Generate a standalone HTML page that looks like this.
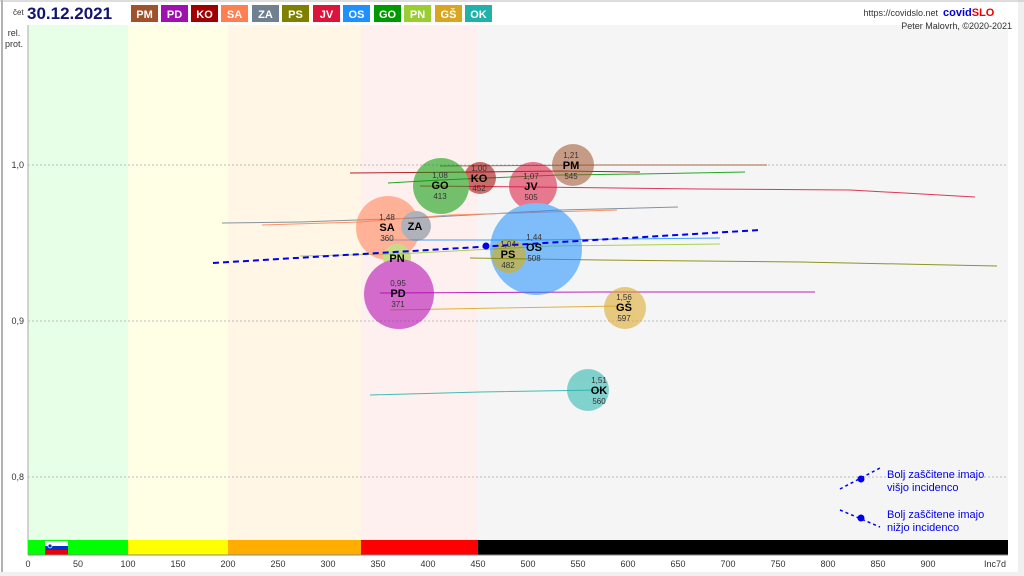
<!DOCTYPE html>
<html><head><meta charset="utf-8"><style>
html,body{margin:0;padding:0;background:#fff}
svg{display:block;font-family:"Liberation Sans",sans-serif}
</style></head><body>
<svg width="1024" height="576" viewBox="0 0 1024 576" xmlns="http://www.w3.org/2000/svg">
<rect x="0" y="0" width="1024" height="576" fill="#fff"/>
<rect x="0" y="572" width="1024" height="4" fill="#f0f0f0"/>
<rect x="1018" y="0" width="6" height="576" fill="#f0f0f0"/>
<line x1="2" y1="0" x2="2" y2="572" stroke="#999" stroke-width="1.5"/>
<line x1="0" y1="1" x2="1024" y2="1" stroke="#bbb"/>
<!-- zones -->
<rect x="28" y="25" width="100" height="515" fill="#e6ffe6"/>
<rect x="128" y="25" width="100" height="515" fill="#ffffe6"/>
<rect x="228" y="25" width="133" height="515" fill="#fff6e6"/>
<rect x="361" y="25" width="117" height="515" fill="#fff0f0"/>
<rect x="478" y="25" width="530" height="515" fill="#f5f5f5"/>
<line x1="28" y1="25" x2="28" y2="555" stroke="#aaa"/>
<!-- grid -->
<g stroke="#bbb" stroke-dasharray="2,2" stroke-width="1">
<line x1="28" y1="165" x2="1008" y2="165"/>
<line x1="28" y1="321" x2="1008" y2="321"/>
<line x1="28" y1="477" x2="1008" y2="477"/>
</g>
<g font-size="9" fill="#333" text-anchor="end">
<text x="24" y="168">1,0</text><text x="24" y="324">0,9</text><text x="24" y="480">0,8</text>
</g>
<text x="14" y="36" font-size="9" fill="#333" text-anchor="middle">rel.</text>
<text x="14" y="47" font-size="9" fill="#333" text-anchor="middle">prot.</text>
<!-- bottom bar -->
<rect x="28" y="540" width="100" height="15" fill="#00ff00"/>
<rect x="128" y="540" width="100" height="15" fill="#ffff00"/>
<rect x="228" y="540" width="133" height="15" fill="#ffae00"/>
<rect x="361" y="540" width="117" height="15" fill="#ff0000"/>
<rect x="478" y="540" width="530" height="15" fill="#000"/>
<rect x="45" y="541" width="23" height="5" fill="#fff"/>
<rect x="45" y="546" width="23" height="4" fill="#0033cc"/>
<rect x="45" y="550" width="23" height="5" fill="#e00"/>
<circle cx="50" cy="546" r="2" fill="#0033cc" stroke="#fff" stroke-width="0.7"/>
<line x1="28" y1="555" x2="1008" y2="555" stroke="#888"/>
<g font-size="9" fill="#333" text-anchor="middle">
<text x="28" y="567">0</text><text x="78" y="567">50</text><text x="128" y="567">100</text><text x="178" y="567">150</text><text x="228" y="567">200</text><text x="278" y="567">250</text><text x="328" y="567">300</text><text x="378" y="567">350</text><text x="428" y="567">400</text><text x="478" y="567">450</text><text x="528" y="567">500</text><text x="578" y="567">550</text><text x="628" y="567">600</text><text x="678" y="567">650</text><text x="728" y="567">700</text><text x="778" y="567">750</text><text x="828" y="567">800</text><text x="878" y="567">850</text><text x="928" y="567">900</text><text x="995" y="567">Inc7d</text>
</g>
<!-- trails -->
<g fill="none" stroke-width="1" opacity="0.85">
<polyline points="440,166 600,165 767,165" stroke="#a0522d"/>
<polyline points="350,173 480,172 560,171 640,172" stroke="#a00000"/>
<polyline points="388,183 440,180 560,175 640,174 745,172" stroke="#009900"/>
<polyline points="420,186 533,187 700,189 850,190 975,197" stroke="#dc143c"/>
<polyline points="222,223 300,222 415,218 560,210 678,207" stroke="#708090"/>
<polyline points="262,225 360,222 450,215 617,210" stroke="#ff7f50"/>
<polyline points="380,240 536,240 720,238" stroke="#1e90ff"/>
<polyline points="300,256 397,254 550,246 720,244" stroke="#9acd32"/>
<polyline points="470,258 600,260 800,262 997,266" stroke="#808000"/>
<polyline points="380,293 600,292 815,292" stroke="#b000b0"/>
<polyline points="390,310 500,308 620,306" stroke="#daa520"/>
<polyline points="370,395 480,392 600,390" stroke="#20b2aa"/>
</g>
<!-- bubbles -->
<g opacity="0.55">
<circle cx="573" cy="165" r="21" fill="#a0522d"/>
<circle cx="480" cy="178" r="16" fill="#a00000"/>
<circle cx="441" cy="186" r="28" fill="#009900"/>
<circle cx="533" cy="186" r="24" fill="#dc143c"/>
<circle cx="388" cy="228" r="32" fill="#ff7f50"/>
<circle cx="416" cy="226" r="15" fill="#708090"/>
<circle cx="536" cy="249" r="46" fill="#1e90ff"/>
<circle cx="509" cy="256" r="17" fill="#808000"/>
<circle cx="397" cy="258" r="14" fill="#9acd32"/>
<circle cx="399" cy="294" r="35" fill="#b000b0"/>
<circle cx="625" cy="308" r="21" fill="#daa520"/>
<circle cx="588" cy="390" r="21" fill="#20b2aa"/>
</g>
<!-- trend -->
<line x1="213" y1="263" x2="760" y2="230" stroke="#0000ee" stroke-width="2" stroke-dasharray="6,4"/>
<circle cx="486" cy="246" r="3.5" fill="#0000ee"/>
<!-- labels -->
<g text-anchor="middle" font-size="8" fill="#333">
<text x="571" y="158">1,21</text><text x="571" y="179">545</text>
<text x="479" y="171">1,00</text><text x="479" y="191">452</text>
<text x="440" y="178">1,08</text><text x="440" y="199">413</text>
<text x="531" y="179">1,07</text><text x="531" y="200">505</text>
<text x="387" y="220">1,48</text><text x="387" y="241">360</text>
<text x="534" y="240">1,44</text><text x="534" y="261">508</text>
<text x="508" y="247">1,04</text><text x="508" y="268">482</text>
<text x="398" y="286">0,95</text><text x="398" y="307">371</text>
<text x="624" y="300">1,56</text><text x="624" y="321">597</text>
<text x="599" y="383">1,51</text><text x="599" y="404">560</text>
</g>
<g text-anchor="middle" font-size="11" font-weight="bold" fill="#000">
<text x="571" y="169">PM</text><text x="479" y="182">KO</text><text x="440" y="189">GO</text>
<text x="531" y="190">JV</text><text x="387" y="231">SA</text><text x="415" y="230">ZA</text>
<text x="534" y="251">OS</text><text x="508" y="258">PS</text><text x="397" y="262">PN</text>
<text x="398" y="297">PD</text><text x="624" y="311">GŠ</text><text x="599" y="394">OK</text>
</g>
<!-- legend -->
<line x1="840" y1="489" x2="880" y2="468" stroke="#0000ee" stroke-width="1.5" stroke-dasharray="3,3"/>
<circle cx="861" cy="479" r="3.5" fill="#0000ee"/>
<line x1="840" y1="510" x2="880" y2="527" stroke="#0000ee" stroke-width="1.5" stroke-dasharray="3,3"/>
<circle cx="861" cy="518" r="3.5" fill="#0000ee"/>
<g font-size="11" fill="#0000ee">
<text x="887" y="478">Bolj  zaščitene imajo</text><text x="887" y="491">višjo incidenco</text>
<text x="887" y="518">Bolj  zaščitene imajo</text><text x="887" y="531">nižjo incidenco</text>
</g>
<!-- header -->
<text x="13" y="15" font-size="8" fill="#333">čet</text>
<text x="27" y="19" font-size="17" font-weight="bold" fill="#141470">30.12.2021</text>
<g font-size="11" font-weight="bold" fill="#fff" text-anchor="middle">
<rect x="131" y="5" width="27" height="17" fill="#a0522d"/><text x="144.5" y="18">PM</text>
<rect x="161" y="5" width="27" height="17" fill="#a010b0"/><text x="174.5" y="18">PD</text>
<rect x="191" y="5" width="27" height="17" fill="#a00000"/><text x="204.5" y="18">KO</text>
<rect x="221" y="5" width="27" height="17" fill="#ff7f50"/><text x="234.5" y="18">SA</text>
<rect x="252" y="5" width="27" height="17" fill="#708090"/><text x="265.5" y="18">ZA</text>
<rect x="282" y="5" width="27" height="17" fill="#808000"/><text x="295.5" y="18">PS</text>
<rect x="313" y="5" width="27" height="17" fill="#dc143c"/><text x="326.5" y="18">JV</text>
<rect x="343" y="5" width="27" height="17" fill="#1e90ff"/><text x="356.5" y="18">OS</text>
<rect x="374" y="5" width="27" height="17" fill="#009900"/><text x="387.5" y="18">GO</text>
<rect x="404" y="5" width="27" height="17" fill="#9acd32"/><text x="417.5" y="18">PN</text>
<rect x="435" y="5" width="27" height="17" fill="#daa520"/><text x="448.5" y="18">GŠ</text>
<rect x="465" y="5" width="27" height="17" fill="#20b2aa"/><text x="478.5" y="18">OK</text>
</g>
<text x="938" y="16" font-size="9" fill="#333" text-anchor="end">https://covidslo.net</text>
<text x="943" y="16" font-size="11" font-weight="bold" fill="#0000dd">covid<tspan fill="#ee0000">SLO</tspan></text>
<text x="1012" y="29" font-size="9" fill="#333" text-anchor="end">Peter Malovrh, ©2020-2021</text>
</svg>
</body></html>
